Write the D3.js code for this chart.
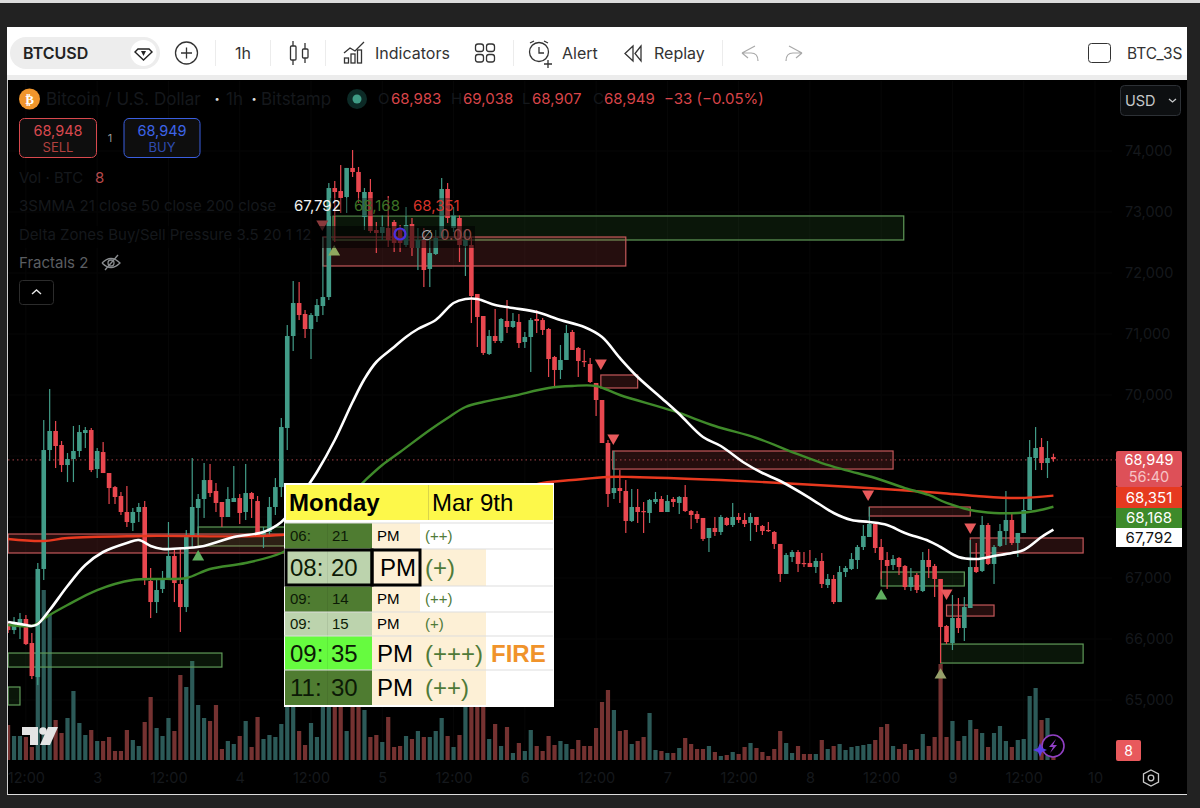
<!DOCTYPE html>
<html lang="en">
<head>
    <meta charset="UTF-8">
    <title>BTCUSD</title>
    <style>
        html, body {
            margin: 0;
            padding: 0;
            background: #222;
            overflow: hidden;
        }

        text {
            font-family: Inter, Roboto, sans-serif;
        }
    </style>
</head>
<body>
    <script src="https://d3js.org/d3.v7.min.js"></script>
    <script>
        const opens = [
            66246,66147,66246,66328,65934,65376,67148,69098,69410,69180,
            68852,68951,69082,69377,69426,68786,69065,68721,68491,68344,
            68082,67902,68082,68164,66951,66606,66820,66984,67361,66902,
            66524,67689,68148,68295,68606,68426,68246,68000,68246,68311,
            68082,68393,68262,67689,67754,68164,68491,69459,70967,71508,
            71328,71082,71295,71459,71606,73393,73344,73246,73722,73656,
            72918,73328,72705,72656,72738,72836,72738,72459,72803,72410,
            72541,72066,72311,72574,73377,72738,72902,72443,72459,71656,
            71295,70672,70967,70885,71213,71115,71197,70869,70951,71246,
            71229,71082,70623,70410,70574,71033,70771,70558,70508,70197,
            69918,69213,68393,68475,68426,67935,68164,68098,68066,68246,
            68295,68082,68295,68230,68328,68098,68049,67984,67656,67820,
            67754,67984,67869,68000,67951,67902,68000,67853,67787,67754,
            67558,67066,67344,67426,67246,67246,67180,67279,66885,66984,
            66606,67098,67148,67295,67508,67672,67885,67508,67295,67213,
            67328,67197,66852,67049,66787,67295,67197,66984,66213,65934,
            66344,66180,66508,67180,67115,67869,67230,67525,67770,67951,
            67574,67738,68115,68967,69147,68885,68983
        ]
        const highs = [
            66279,66360,66426,66393,66098,67246,69590,70098,69574,69246,
            69049,69492,69508,69475,69459,69131,69229,68721,68508,68410,
            68508,68148,68230,68262,67164,66967,67115,67918,67492,67508,
            67787,68967,68377,68885,68869,68557,68246,68491,68836,68377,
            68869,68410,68344,67836,68328,68639,69623,71147,71869,71852,
            71393,71344,71574,72590,73475,73508,73770,73722,74016,73738,
            73393,73541,72836,72951,73262,72869,72787,73082,72902,72738,
            72738,72541,72705,73557,73475,73082,72951,72705,72590,71656,
            71295,71066,71410,71262,71557,71344,71328,71033,71262,71393,
            71262,71098,70640,70820,71147,71066,70787,70738,70607,70197,
            69918,69262,69082,68770,68606,68459,68459,68246,68295,68410,
            68344,68361,68328,68344,68524,68115,68098,67984,67820,68000,
            68033,68000,68230,68066,68066,68066,68000,67869,67918,67770,
            67558,67410,67459,67459,67426,67459,67328,67410,67066,67049,
            67197,67197,67410,67541,67869,68164,67885,67640,67426,67377,
            67344,67213,67164,67082,67426,67476,67230,66984,66229,66721,
            66672,66688,67623,67574,68016,67902,67541,67885,68426,68049,
            67738,68295,69262,69475,69295,69246,69038
        ]
        const lows = [
            66098,66081,66000,65901,65343,65245,66967,68918,68803,68737,
            68573,68573,68983,69131,68737,68639,68721,68213,68213,68033,
            67836,67770,67918,66885,66344,66426,66754,66967,66606,66115,
            66442,67492,67672,67984,68328,68082,67836,68000,68246,67885,
            67951,67984,67672,67492,67705,68033,68328,69098,70721,71229,
            70934,70590,71197,71311,71557,72508,72984,72984,73574,73148,
            72705,72656,72328,72541,72426,72344,72344,72426,72279,72049,
            71770,71770,72295,72574,72820,72672,72180,71951,71180,70787,
            70656,70656,70852,70852,71016,71098,70771,70771,70377,71016,
            70984,70295,70131,70262,70574,70738,70295,70459,70197,69656,
            69213,68164,68295,68230,67738,67918,67902,67738,67902,68213,
            68082,68082,68164,68049,68082,67803,67902,67607,67426,67689,
            67705,67853,67836,67902,67836,67607,67754,67705,67754,67476,
            66935,67066,67262,67098,67180,67180,67082,66836,66836,66574,
            66606,67016,67131,67148,67459,67672,67410,66984,66820,67131,
            67049,66803,66787,66754,66770,67000,66689,65606,65917,65819,
            66098,65967,66508,67082,67098,67213,66902,67508,67541,67541,
            67344,67738,68115,68770,68770,68639,68907
        ]
        const closes = [
            66147,66262,66328,65917,65393,67148,69098,69410,69164,68852,
            68951,69082,69393,69426,68770,69082,68721,68475,68328,68082,
            67918,68082,68164,66967,66606,66803,67000,67361,66918,66524,
            67689,68164,68295,68606,68393,68230,68000,68295,68311,68066,
            68393,68295,67705,67754,68164,68491,69475,70967,71508,71311,
            71082,71311,71475,71606,73393,73328,73230,73722,73656,73328,
            73328,72689,72656,72754,72541,72492,72492,72787,72410,72541,
            72049,72328,72574,73377,72902,72951,72459,72541,71623,71279,
            70689,70967,70885,71246,71115,71213,70852,70951,71229,71213,
            71066,70590,70410,70574,71016,70738,70558,70541,70213,69918,
            69213,68377,68475,68426,67935,68164,68082,68082,68279,68295,
            68082,68262,68246,68328,68098,68033,67967,67640,67820,67754,
            68000,67869,68000,67951,67885,68000,67869,67770,67770,67558,
            67066,67377,67426,67230,67230,67180,67279,66902,66984,66606,
            67098,67164,67311,67508,67689,67885,67492,67295,67197,67311,
            67180,66852,67016,66803,67295,67180,66984,66197,65950,66344,
            66180,66524,67180,67098,67869,67230,67508,67770,67951,67574,
            67738,68115,68983,69131,68885,68967,68949
        ]
        const volumes = [
            35,24,24,23,13,100,170,146,40,27,
            42,69,37,25,30,19,19,23,9,9,
            30,20,14,38,63,32,24,42,29,85,
            73,99,55,42,39,55,11,19,16,24,
            39,13,43,21,25,23,36,60,60,29,
            15,37,23,60,75,60,55,29,55,55,
            50,23,25,18,43,13,14,24,21,29,
            23,23,29,42,24,13,25,60,65,58,
            60,21,36,14,33,7,17,9,30,14,
            9,24,15,19,16,11,20,14,14,32,
            58,70,50,29,30,16,19,23,47,10,
            9,7,7,12,22,16,11,11,14,8,
            4,5,8,6,13,17,12,8,4,11,
            29,17,7,14,6,6,6,20,11,14,
            16,10,13,14,15,16,20,33,36,14,
            11,16,10,11,26,14,23,96,23,39,
            19,24,40,31,27,13,27,34,19,13,
            20,21,64,72,40,42,4
        ]

        // moving averages, read at a few candles
        const sma21Idx = [0,3,4,5,7,10,13,16,20,22,24,26,30,33,38,43,46,48,50,52,55,58,60,62,65,67,69,72,75,77,79,82,85,89,93,97,100,103,106,110,113,117,120,124,127,130,135,139,142,145,148,151,155,157,160,163,166,169,171,174,176]
        const sma21Val = [66279,66229,66213,66246,66475,66869,67213,67426,67574,67623,67525,67476,67492,67525,67672,67754,67918,68148,68442,68737,69262,69885,70262,70541,70787,70951,71082,71229,71508,71574,71574,71475,71426,71361,71229,71115,70951,70607,70295,69951,69688,69311,69164,68885,68721,68590,68311,68066,67951,67918,67869,67738,67607,67508,67344,67311,67361,67410,67459,67672,67792]
        const sma50Idx = [0,4,5,7,10,15,21,26,30,34,40,46,50,55,60,63,66,71,74,77,80,85,91,95,99,103,112,119,126,132,137,141,146,151,155,158,162,166,170,173,176]
        const sma50Val = [66229,66213,66262,66393,66557,66803,66967,66984,67000,67148,67246,67410,67656,68115,68590,68852,69065,69426,69623,69803,69885,69984,70115,70148,70148,70000,69738,69492,69295,69065,68885,68770,68639,68475,68361,68230,68115,68066,68066,68098,68168]
        const sma200Idx = [0,6,10,23,46,60,75,90,95,101,105,120,130,142,150,157,163,170,176]
        const sma200Val = [67639,67607,67656,67689,67705,67902,68197,68557,68606,68656,68656,68606,68557,68491,68442,68393,68344,68311,68351]

        // delta zones
        const zoneKinds = ['buy','sell','buy','sell','buy','buy','sell','sell','sell','buy','sell','sell','buy']
        const zoneFrom = [54.7,53,32,0,0,0,99.8,101.8,145,147,158,162,157]
        const zoneTo = [150.8,104,46.6,46.6,36,2,106,149,162,161,166,181,181]
        const zoneHigh = [72935,72590,67836,67721,65770,65213,70328,69082,68164,67098,66557,67656,65917]
        const zoneLow = [72541,72115,67525,67410,65540,64918,70115,68786,68016,66869,66376,67410,65606]

        // fractal markers
        const downIdx = [52.9,99.8,101.9,144.8,158,162]
        const downPrice = [72803,70525,69295,68377,66754,67836]
        const upIdx = [54.9,32,147,157]
        const upPrice = [72344,67344,66705,65409]

        // 68,000 and 69,000 sit behind the price badges, so they get no label
        const priceTicks = [65000,66000,67000,70000,71000,72000,73000,74000]
        const timeIdx = [3,15,27,39,51,63,75,87,99,111,123,135,147,159,171,183]
        const timeLabels = ['12:00','3','12:00','4','12:00','5','12:00','6','12:00','7','12:00','8','12:00','9','12:00','10']

        const tableHours = ['06:','08:','09:','09:','09:','11:']
        const tableMins = ['21','20','14','15','35','30']
        const tableMarks = ['(++)','(+)','(++)','(+)','(+++)','(++)']
        const tableNotes = ['','','','','FIRE','']

        const candleUp = '#429c88'
        const candleDown = '#e8474f'
        const dimText = '#15181c'
        const W = 1200
        const H = 808

        const svg = d3.select('body')
            .append('svg')
            .attr('width', W)
            .attr('height', H)
            .style('display', 'block')

        const xScale = d3.scaleLinear().domain([0, 183]).range([8.1, 1095])
        const yScale = d3.scaleLinear().domain([65000, 74000]).range([700, 151])
        const volScale = d3.scaleLinear().domain([0, 100]).range([760, 660])

        function label(parent, x, y, str, color, size, extra) {
            const o = extra || {}
            return parent.append('text')
                .attr('x', x)
                .attr('y', y)
                .attr('dy', '0.36em')
                .attr('fill', color)
                .attr('font-size', size)
                .attr('text-anchor', o.anchor || 'start')
                .attr('font-weight', o.weight || 400)
                .style('font-family', o.family || null)
                .text(str)
        }

        function box(parent, x, y, w, h, fill, stroke, r) {
            return parent.append('rect')
                .attr('x', x)
                .attr('y', y)
                .attr('width', w)
                .attr('height', h)
                .attr('rx', r || 0)
                .attr('fill', fill)
                .attr('stroke', stroke || 'none')
        }

        // window frame
        box(svg, 0, 0, W, 3, '#dcdcdc')
        box(svg, 7, 27, 1180, 54, '#ffffff')
        box(svg, 7, 75, 1180, 6, '#ececec')
        box(svg, 7, 80, 1180, 714, '#000000')
        box(svg, 7, 80, 1, 714, '#cfcfcf')
        box(svg, 7, 794, 1180, 1, '#dddddd')

        svg.append('clipPath').attr('id', 'plot')
            .append('rect').attr('x', 8).attr('y', 81).attr('width', 1179).attr('height', 690)

        // axes and grid
        const plot = svg.append('g').attr('clip-path', 'url(#plot)')

        plot.append('g')
            .selectAll('line')
            .data(yScale.ticks(9))
            .enter()
            .append('line')
            .attr('x1', 8)
            .attr('x2', 1112)
            .attr('y1', d => yScale(d))
            .attr('y2', d => yScale(d))
            .attr('stroke', '#070707')

        plot.append('g')
            .selectAll('line')
            .data(timeIdx)
            .enter()
            .append('line')
            .attr('x1', d => xScale(d))
            .attr('x2', d => xScale(d))
            .attr('y1', 81)
            .attr('y2', 760)
            .attr('stroke', '#070707')

        const yAxis = d3.axisRight(yScale)
            .tickValues(priceTicks)
            .tickSize(0)
            .tickFormat(d3.format(','))
        svg.append('g')
            .attr('transform', 'translate(1123, 0)')
            .call(yAxis)
            .call(g => g.select('.domain').remove())
            .call(g => g.selectAll('text')
                .attr('x', 2)
                .attr('font-size', 14.5)
                .style('fill', dimText)
                .style('font-family', 'Inter'))

        const xAxis = d3.axisBottom(xScale)
            .tickValues(timeIdx)
            .tickSize(0)
            .tickFormat((d, i) => timeLabels[i])
        svg.append('g')
            .attr('transform', 'translate(0, 770)')
            .call(xAxis)
            .call(g => g.select('.domain').remove())
            .call(g => g.selectAll('text')
                .attr('font-size', 14.5)
                .style('fill', dimText)
                .style('font-family', 'Inter'))

        // volume bars
        plot.append('g')
            .selectAll('rect')
            .data(volumes)
            .enter()
            .append('rect')
            .attr('x', (d, i) => xScale(i) - 2.1)
            .attr('y', d => volScale(d))
            .attr('width', 4.2)
            .attr('height', d => volScale(0) - volScale(d))
            .attr('fill', (d, i) => closes[i] >= opens[i] ? '#2c5a58' : '#753231')

        // zones
        plot.append('g')
            .selectAll('rect')
            .data(zoneKinds)
            .enter()
            .append('rect')
            .attr('x', (d, i) => xScale(zoneFrom[i]))
            .attr('y', (d, i) => yScale(zoneHigh[i]))
            .attr('width', (d, i) => xScale(zoneTo[i]) - xScale(zoneFrom[i]))
            .attr('height', (d, i) => yScale(zoneLow[i]) - yScale(zoneHigh[i]))
            .attr('fill', d => d === 'buy' ? 'rgba(80,170,70,0.13)' : 'rgba(232,90,90,0.16)')
            .attr('stroke', d => d === 'buy' ? '#5f9a58' : '#c4585a')
            .attr('stroke-width', 1.2)

        // dotted last price
        plot.append('line')
            .attr('x1', 8)
            .attr('x2', 1117)
            .attr('y1', yScale(closes[closes.length - 1]) + 0.8)
            .attr('y2', yScale(closes[closes.length - 1]) + 0.8)
            .attr('stroke', '#a8444a')
            .attr('stroke-dasharray', '1.5 3')

        // candles
        const candles = plot.append('g')
            .selectAll('g')
            .data(opens)
            .enter()
            .append('g')
            .attr('fill', (d, i) => closes[i] >= d ? candleUp : candleDown)
            .attr('stroke', 'none')

        candles.append('rect')
            .attr('x', (d, i) => xScale(i) - 0.6)
            .attr('y', (d, i) => yScale(highs[i]))
            .attr('width', 1.2)
            .attr('height', (d, i) => yScale(lows[i]) - yScale(highs[i]))

        candles.append('rect')
            .attr('x', (d, i) => xScale(i) - 2.3)
            .attr('y', (d, i) => yScale(Math.max(d, closes[i])))
            .attr('width', 4.6)
            .attr('height', (d, i) => Math.max(1.2, Math.abs(yScale(d) - yScale(closes[i]))))

        // moving averages
        const maLine = idx => d3.line()
            .x((d, i) => xScale(idx[i]))
            .y(d => yScale(d))
            .curve(d3.curveCatmullRom.alpha(0.5))

        plot.append('path')
            .attr('d', maLine(sma200Idx)(sma200Val))
            .attr('fill', 'none')
            .attr('stroke', '#e8391f')
            .attr('stroke-width', 2.4)
        plot.append('path')
            .attr('d', maLine(sma50Idx)(sma50Val))
            .attr('fill', 'none')
            .attr('stroke', '#3f8a2a')
            .attr('stroke-width', 2.4)
        plot.append('path')
            .attr('d', maLine(sma21Idx)(sma21Val))
            .attr('fill', 'none')
            .attr('stroke', '#ffffff')
            .attr('stroke-width', 2.6)

        // fractals
        const tri = d3.symbol().type(d3.symbolTriangle).size(62)()
        plot.append('g')
            .selectAll('path')
            .data(downIdx)
            .enter()
            .append('path')
            .attr('d', tri)
            .attr('transform', (d, i) => `translate(${xScale(d)}, ${yScale(downPrice[i])}) rotate(180)`)
            .attr('fill', (d, i) => i === 0 ? '#8a3a3c' : '#e85a5c')
        plot.append('g')
            .selectAll('path')
            .data(upIdx)
            .enter()
            .append('path')
            .attr('d', tri)
            .attr('transform', (d, i) => `translate(${xScale(d)}, ${yScale(upPrice[i])})`)
            .attr('fill', (d, i) => i === 0 ? '#8fa85f' : (i === 3 ? '#96a06a' : '#5fae5f'))

        // dimmed legend row over the chart
        box(svg, 8, 226, 467, 22, 'rgba(0,0,0,0.55)')
        box(svg, 330, 198, 140, 18, 'rgba(0,0,0,0.35)')

        // price badges
        box(svg, 1116, 451, 66, 36, '#dd5058', null, 2)
        label(svg, 1149, 459.5, '68,949', '#ffffff', 14.5, { anchor: 'middle' })
        label(svg, 1149, 476.5, '56:40', '#f6c3c5', 14.5, { anchor: 'middle' })
        box(svg, 1116, 487, 66, 21, '#e63a20')
        label(svg, 1149, 497.5, '68,351', '#ffffff', 15, { anchor: 'middle' })
        box(svg, 1116, 508, 66, 20, '#3d8a2a')
        label(svg, 1149, 518, '68,168', '#ffffff', 15, { anchor: 'middle' })
        box(svg, 1116, 528, 66, 19, '#ffffff')
        label(svg, 1149, 537.5, '67,792', '#111111', 15, { anchor: 'middle' })
        box(svg, 1116, 740, 25, 21, '#e8595c', null, 2)
        label(svg, 1128.5, 751, '8', '#ffffff', 14, { anchor: 'middle' })

        // legend
        svg.append('circle').attr('cx', 29.5).attr('cy', 99).attr('r', 10.5).attr('fill', '#f0952c')
        label(svg, 29.5, 99, '₿', '#ffffff', 13, { anchor: 'middle', weight: 700, family: 'DejaVu Sans' })
        label(svg, 46, 99, 'Bitcoin / U.S. Dollar', dimText, 17)
        label(svg, 217, 99, '·', '#dddddd', 17, { anchor: 'middle', weight: 700 })
        label(svg, 226, 99, '1h', dimText, 17)
        label(svg, 254, 99, '·', '#dddddd', 17, { anchor: 'middle', weight: 700 })
        label(svg, 261, 99, 'Bitstamp', dimText, 17)
        svg.append('circle').attr('cx', 357).attr('cy', 99).attr('r', 10).attr('fill', '#0c2a26')
        svg.append('circle').attr('cx', 357).attr('cy', 99).attr('r', 4.5).attr('fill', '#3f9b85')

        const legendRed = '#d9454a'
        label(svg, 378, 99, 'O', dimText, 15)
        label(svg, 391, 99, '68,983', legendRed, 15)
        label(svg, 451, 99, 'H', dimText, 15)
        label(svg, 463, 99, '69,038', legendRed, 15)
        label(svg, 522, 99, 'L', dimText, 15)
        label(svg, 532, 99, '68,907', legendRed, 15)
        label(svg, 593, 99, 'C', dimText, 15)
        label(svg, 604, 99, '68,949', legendRed, 15)
        label(svg, 664, 99, '−33 (−0.05%)', legendRed, 15)

        box(svg, 19.5, 118.5, 77, 39, '#0e0e0e', '#d9494e', 5)
        label(svg, 58, 131, '68,948', '#d9494e', 14.5, { anchor: 'middle' })
        label(svg, 58, 147, 'SELL', '#b2403f', 13, { anchor: 'middle' })
        label(svg, 110, 138, '1', '#999999', 11, { anchor: 'middle' })
        box(svg, 124, 118.5, 76, 39, '#0e0e0e', '#3b5fe0', 5)
        label(svg, 162, 131, '68,949', '#3d64e8', 14.5, { anchor: 'middle' })
        label(svg, 162, 147, 'BUY', '#2f4cb0', 13, { anchor: 'middle' })

        label(svg, 19, 178, 'Vol · BTC', dimText, 15)
        label(svg, 95, 178, '8', '#b5494b', 15)
        label(svg, 19, 206, '3SMMA 21 close 50 close 200 close', dimText, 15)
        label(svg, 294, 206, '67,792', '#f2f2f2', 15)
        label(svg, 354, 206, '68,168', '#3d7326', 15)
        label(svg, 413, 206, '68,351', '#d8342a', 15)
        label(svg, 19, 235, 'Delta Zones Buy/Sell Pressure 3.5 20 1 12', dimText, 15)
        svg.append('circle').attr('cx', 400).attr('cy', 234).attr('r', 5.5)
            .attr('fill', 'none').attr('stroke', '#4a2fe0').attr('stroke-width', 2.2)
        label(svg, 427, 235, '∅', '#b8b8b8', 14, { anchor: 'middle', family: 'DejaVu Sans' })
        label(svg, 440, 235, '0.00', '#8e4a48', 15)
        label(svg, 19, 263, 'Fractals 2', '#5b5e62', 15)

        const eye = svg.append('g')
            .attr('transform', 'translate(111, 263)')
            .attr('fill', 'none')
            .attr('stroke', '#8a8d90')
            .attr('stroke-width', 1.3)
        eye.append('path').attr('d', 'M-9 0 Q0 -9 9 0 Q0 9 -9 0')
        eye.append('circle').attr('r', 3)
        eye.append('line').attr('x1', -6).attr('y1', 7).attr('x2', 7).attr('y2', -8)

        box(svg, 19.5, 280.5, 34, 24, '#000000', '#2c2c2c', 3)
        svg.append('path').attr('d', 'M32 294 L36.5 290 L41 294')
            .attr('fill', 'none').attr('stroke', '#e8e8e8').attr('stroke-width', 1.4)

        box(svg, 1120.5, 85.5, 60, 30, '#0d0f11', '#2d3136', 4)
        label(svg, 1125, 101, 'USD', '#c6c8ca', 14.5)
        svg.append('path').attr('d', 'M1169 99 L1172.5 102 L1176 99')
            .attr('fill', 'none').attr('stroke', '#c6c8ca').attr('stroke-width', 1.3)

        // tradingview logo and bolt
        const logo = svg.append('g').attr('fill', '#e4e4e4')
        logo.append('path').attr('d', 'M22 727 H38 V745 H30 V735 H22 Z')
        logo.append('circle').attr('cx', 43).attr('cy', 731).attr('r', 3.8)
        logo.append('path').attr('d', 'M48 727 H58 L50 745 H40 Z')

        svg.append('circle').attr('cx', 1053).attr('cy', 746).attr('r', 11)
            .attr('fill', '#000').attr('stroke', '#9140c4').attr('stroke-width', 1.6)
        svg.append('path').attr('d', 'M1056 739 L1049 747 H1053 L1050 753 L1057 745 H1053 Z')
            .attr('fill', '#9140c4')
        svg.append('path').attr('d', 'M1040 743 L1042 748 L1047 750 L1042 752 L1040 757 L1038 752 L1033 750 L1038 748 Z')
            .attr('fill', '#5a3fe8')

        svg.append('path').attr('d', 'M1151 770 L1158.5 774 V782 L1151 786 L1143.5 782 V774 Z')
            .attr('fill', 'none').attr('stroke', '#c8c8c8').attr('stroke-width', 1.3)
        svg.append('circle').attr('cx', 1151).attr('cy', 778).attr('r', 2.8)
            .attr('fill', 'none').attr('stroke', '#c8c8c8').attr('stroke-width', 1.3)

        // toolbar
        const bar = svg.append('g')
        box(bar, 10, 37, 150, 32, '#ededed', null, 16)
        label(bar, 23, 53, 'BTCUSD', '#222222', 16, { weight: 600 })
        bar.append('circle').attr('cx', 143.5).attr('cy', 53).attr('r', 13).attr('fill', '#fff')
        bar.append('path').attr('d', 'M138 49 H149 L152 52 L143.5 60 L135 52 Z')
            .attr('fill', 'none').attr('stroke', '#222').attr('stroke-width', 1.4)
        bar.append('path').attr('d', 'M141 51 H146 L143.5 56 Z').attr('fill', '#222')

        bar.append('circle').attr('cx', 186.5).attr('cy', 53).attr('r', 11)
            .attr('fill', 'none').attr('stroke', '#333').attr('stroke-width', 1.3)
        bar.append('path').attr('d', 'M181 53 H192 M186.5 47.5 V58.5').attr('stroke', '#333').attr('stroke-width', 1.3)

        const seps = [215, 270, 325, 513, 722]
        seps.forEach(x => box(bar, x, 40, 1, 26, '#ececec'))

        label(bar, 243, 53.5, '1h', '#333333', 16, { anchor: 'middle' })

        const icon = bar.append('g').attr('fill', 'none').attr('stroke', '#333').attr('stroke-width', 1.3)
        icon.append('path').attr('d', 'M293 41 V65 M305 43 V63')
        box(icon, 290.5, 46, 5.5, 14, '#fff', '#333', 1)
        box(icon, 302.5, 49, 5.5, 9, '#fff', '#333', 1)

        icon.append('path').attr('d', 'M344 53 L350 48 L355 51 L364 42')
        box(icon, 344.5, 58, 4, 5, 'none', '#333')
        box(icon, 351, 54, 4, 9, 'none', '#333')
        box(icon, 357.5, 50, 4, 13, 'none', '#333')
        label(bar, 375, 53.5, 'Indicators', '#333333', 16)

        box(icon, 475.5, 44, 8, 7.5, 'none', '#333', 2.5)
        box(icon, 486.5, 44, 8, 7.5, 'none', '#333', 2.5)
        box(icon, 475.5, 54.5, 8, 7.5, 'none', '#333', 2.5)
        box(icon, 486.5, 54.5, 8, 7.5, 'none', '#333', 2.5)

        icon.append('circle').attr('cx', 539).attr('cy', 52).attr('r', 9.5)
        icon.append('path').attr('d', 'M539 47 V53 H544 M530 43 L534 41 M548 43 L544 41')
        icon.append('path').attr('d', 'M548 60 V68 M544 64 H552')
        label(bar, 562, 53.5, 'Alert', '#333333', 16)

        icon.append('path').attr('d', 'M633 46 L625 53.5 L633 61 Z M641 46 L635 53.5 L641 61 Z')
        label(bar, 654, 53.5, 'Replay', '#333333', 16)

        const undo = bar.append('g').attr('fill', 'none').attr('stroke', '#a9a9a9').attr('stroke-width', 1.2)
        undo.append('path').attr('d', 'M755 46 L742 53 M742 53 L748 58 M742 53 H751 Q758 53 758 61')
        undo.append('path').attr('d', 'M789 46 L802 53 M802 53 L796 58 M802 53 H793 Q786 53 786 61')

        box(bar, 1088.5, 43.5, 22, 19, '#fff', '#333', 3)
        label(bar, 1127, 53.5, 'BTC_3S', '#333333', 15.5)

        // pasted table
        const colX = [284, 327, 372, 420, 486, 553]
        const rowY = [523, 549, 586, 612, 636, 670, 705]
        const bigRow = [false, true, false, false, true, true]
        const timeFill = ['#4f7c31', '#bcd3ad', '#4f7c31', '#bcd3ad', '#66fb3f', '#4f7c31']
        const markFill = ['#ffffff', '#fdf0d6', '#ffffff', '#fdf0d6', '#fdf0d6', '#fdf0d6']
        const cream = '#fdf0d6'
        const table = svg.append('g').style('font-family', 'Liberation Sans')

        box(table, 284, 483, 270, 224, '#ffffff')
        box(table, 286, 485, 267, 35, '#fdf84a')
        box(table, 428, 485, 1, 35, '#d9d44a')
        label(table, 289, 502, 'Monday', '#000000', 24, { weight: 700, family: 'Liberation Sans' })
        label(table, 432, 502, 'Mar 9th', '#000000', 24, { family: 'Liberation Sans' })

        tableHours.forEach((hour, i) => {
            const y0 = rowY[i]
            const h = rowY[i + 1] - y0
            const mid = y0 + h / 2
            const size = bigRow[i] ? 24 : 15
            const text = { family: 'Liberation Sans' }
            box(table, colX[0] + 1, y0, colX[2] - colX[0] - 1, h, timeFill[i])
            box(table, colX[2], y0, colX[3] - colX[2], h, cream)
            box(table, colX[3], y0, colX[4] - colX[3], h, markFill[i])
            box(table, colX[4], y0, colX[5] - colX[4], h, '#ffffff')
            box(table, colX[1], y0, 0.6, h, 'rgba(0,0,0,0.12)')
            table.append('line')
                .attr('x1', colX[0]).attr('x2', colX[5])
                .attr('y1', y0).attr('y2', y0)
                .attr('stroke', '#dddddd')
            label(table, colX[0] + 6, mid, hour, '#0c1a06', size, text)
            label(table, colX[1] + (bigRow[i] ? 4 : 5), mid, tableMins[i], '#0c1a06', size, text)
            label(table, colX[2] + (i === 1 ? 8 : 5), mid, 'PM', '#000000', size, text)
            label(table, colX[3] + 5, mid, tableMarks[i], '#4f7a38', size, text)
            if (tableNotes[i]) {
                label(table, colX[4] + 5, mid, tableNotes[i], '#f0932b', 24, { weight: 700, family: 'Liberation Sans' })
            }
        })

        // black frame of the selected row
        table.append('rect')
            .attr('x', 286).attr('y', 550)
            .attr('width', 86).attr('height', 35)
            .attr('fill', 'none').attr('stroke', '#000').attr('stroke-width', 3)
        table.append('rect')
            .attr('x', 372).attr('y', 550)
            .attr('width', 48).attr('height', 35)
            .attr('fill', 'none').attr('stroke', '#000').attr('stroke-width', 3)
    </script>
</body>
</html>
